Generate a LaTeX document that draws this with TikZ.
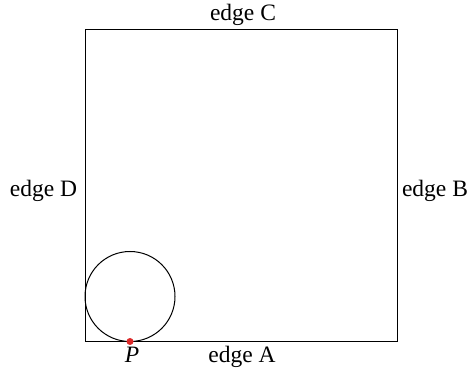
\documentclass[tikz,border=0pt]{standalone}
\usepackage{fontspec}
\setmainfont{Liberation Serif}
\definecolor{dotred}{RGB}{220,40,40}
\begin{document}
\begin{tikzpicture}[x=1pt,y=1pt,
  lbl/.style={inner sep=0pt,anchor=base,font=\fontsize{23.5}{27}\selectfont},
  edgeline/.style={line width=1pt}]
\useasboundingbox (0,0) rectangle (471,372);
\draw[edgeline] (85,30.5) rectangle (397,342);
\node[edgeline,draw,circle,minimum size=90pt,inner sep=0pt] (c) at (130,75.5) {};
\node[circle,fill=dotred,minimum size=7pt,inner sep=0pt] (p) at (130,30.5) {};
\node[lbl] (ec) at (243,351) {edge C};
\node[lbl] (ed) at (43.5,175.5) {edge D};
\node[lbl] (eb) at (435,175.5) {edge B};
\node[lbl] (ea) at (242,9.5) {edge A};
\node[lbl] (pl) at (132,9.5) {\itshape P};
\end{tikzpicture}
\end{document}
